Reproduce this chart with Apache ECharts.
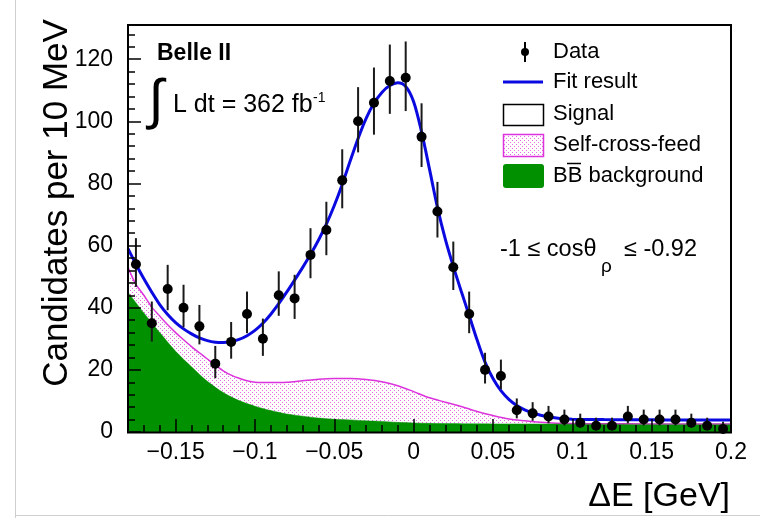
<!DOCTYPE html>
<html>
<head>
<meta charset="utf-8">
<script src="https://cdn.jsdelivr.net/npm/echarts@6/dist/echarts.min.js"></script>
<style>
  html, body { margin: 0; padding: 0; background: #fff; }
  #chart { width: 760px; height: 518px; }
</style>
</head>
<body>
<div id="chart"></div>
<script>
// bin centres (10 MeV bins) and observed counts
const binCenters = [-0.175, -0.165, -0.155, -0.145, -0.135, -0.125, -0.115, -0.105, -0.095, -0.085,
  -0.075, -0.065, -0.055, -0.045, -0.035, -0.025, -0.015, -0.005, 0.005, 0.015,
  0.025, 0.035, 0.045, 0.055, 0.065, 0.075, 0.085, 0.095, 0.105, 0.115,
  0.125, 0.135, 0.145, 0.155, 0.165, 0.175, 0.185, 0.195]
const counts = [54, 35, 46, 40, 34, 22, 29, 38, 30, 44,
  43, 57, 65, 81, 100, 106, 113, 114, 95, 71,
  53, 38, 20, 18, 7, 6, 5, 4, 3, 2,
  2, 5, 4, 4, 4, 3, 2, 1]
const errLow = [7.3, 5.9, 6.8, 6.3, 5.8, 4.7, 5.4, 6.2, 5.5, 6.6,
  6.6, 7.5, 8.1, 9.0, 10.0, 10.3, 10.6, 10.7, 9.7, 8.4,
  7.3, 6.2, 4.4, 4.2, 2.6, 2.4, 2.2, 1.9, 1.6, 1.3,
  1.3, 2.2, 1.9, 1.9, 1.9, 1.6, 1.3, 0.8]
const errHigh = [8.4, 7.0, 7.8, 7.4, 6.9, 5.7, 6.4, 7.2, 6.5, 7.7,
  7.6, 8.6, 9.1, 10.0, 11.0, 11.3, 11.7, 11.7, 10.8, 9.5,
  8.3, 7.2, 5.5, 5.3, 3.8, 3.6, 3.4, 3.2, 2.9, 2.6,
  2.6, 3.4, 3.2, 3.2, 3.2, 2.9, 2.6, 2.3]

// fit result (total)
const fitX = [-0.18, -0.175, -0.17, -0.165, -0.16, -0.155, -0.15, -0.145, -0.14, -0.135,
  -0.13, -0.125, -0.12, -0.115, -0.11, -0.105, -0.1, -0.095, -0.09, -0.085,
  -0.08, -0.075, -0.07, -0.065, -0.06, -0.055, -0.05, -0.045, -0.04, -0.035,
  -0.03, -0.025, -0.02, -0.015, -0.01, -0.005, 0, 0.005, 0.01, 0.015,
  0.02, 0.025, 0.03, 0.035, 0.04, 0.045, 0.05, 0.055, 0.06, 0.065,
  0.07, 0.075, 0.08, 0.085, 0.09, 0.095, 0.1, 0.12, 0.14, 0.16, 0.18, 0.2]
const fitY = [59.0, 54.0, 49.3, 45.0, 41.0, 37.8, 35.2, 33.2, 31.6, 30.3,
  29.4, 28.9, 28.8, 29.1, 29.8, 31.0, 32.7, 35.0, 37.9, 41.3,
  45.0, 48.9, 52.9, 57.1, 61.7, 66.9, 72.9, 79.7, 87.2, 94.5,
  100.9, 105.8, 109.3, 111.5, 112.4, 111.2, 106.3, 96.6, 84.6, 72.3,
  62.0, 53.3, 45.3, 37.5, 29.6, 22.5, 17.2, 13.3, 10.5, 8.5,
  7.1, 6.1, 5.4, 4.9, 4.5, 4.25, 4.1, 4.0, 3.95, 3.9, 3.9, 3.9]

// self-cross-feed stacked on BB background (top edge of hatched area)
const scfX = [-0.18, -0.175, -0.17, -0.165, -0.16, -0.155, -0.15, -0.145, -0.14, -0.135,
  -0.13, -0.125, -0.12, -0.115, -0.11, -0.105, -0.1, -0.09, -0.08, -0.07,
  -0.06, -0.05, -0.04, -0.03, -0.02, -0.01, 0, 0.01, 0.02, 0.03,
  0.04, 0.05, 0.06, 0.07, 0.08, 0.09, 0.1, 0.12, 0.15, 0.2]
const scfY = [53.0, 47.5, 44.0, 40.2, 37.3, 34.5, 32.0, 29.7, 27.5, 25.5,
  23.5, 21.5, 19.7, 18.3, 17.3, 16.5, 16.0, 15.9, 16.0, 16.5,
  17.0, 17.2, 17.2, 16.9, 16.2, 14.9, 13.0, 11.0, 9.6, 8.2,
  6.6, 5.3, 4.2, 3.6, 3.1, 2.8, 2.7, 2.65, 2.6, 2.6]

// BB background
const bbX = [-0.18, -0.17, -0.16, -0.15, -0.14, -0.13, -0.12, -0.11, -0.1, -0.09,
  -0.08, -0.07, -0.06, -0.05, -0.04, -0.03, -0.02, -0.01, 0, 0.02,
  0.05, 0.1, 0.15, 0.2]
const bbY = [45.0, 38.3, 32.0, 26.0, 21.0, 16.3, 12.7, 10.1, 8.3, 6.9,
  5.8, 5.1, 4.5, 4.1, 3.9, 3.6, 3.4, 3.1, 2.9, 2.7,
  2.6, 2.55, 2.5, 2.5]

// tick labels
const xMajor = [-0.15, -0.1, -0.05, 0, 0.05, 0.1, 0.15, 0.2]
const xTickLabels = ['\u22120.15', '\u22120.1', '\u22120.05', '0', '0.05', '0.1', '0.15', '0.2']
const yMajor = [0, 20, 40, 60, 80, 100, 120]
const yTickLabels = ['0', '20', '40', '60', '80', '100', '120']

const FONT = "'Liberation Sans', Arial, Helvetica, sans-serif"
const BLUE = '#0a0ae0'
const GREEN = '#009000'
const MAGENTA = '#dd33dd'

// minor tick positions
const xMinor = []
for (let i = 0; i <= 38; i++) xMinor.push(Math.round((-0.18 + i * 0.01) * 1000) / 1000)
const yMinor = []
for (let v = 0; v <= 128; v += 4) yMinor.push(v)

// dotted hatch like ROOT fill style
function hatch() {
  const c = document.createElement('canvas')
  c.width = 4
  c.height = 4
  const ctx = c.getContext('2d')
  ctx.fillStyle = '#e070e0'
  ctx.fillRect(0, 0, 1, 1)
  ctx.fillRect(2, 2, 1, 1)
  return c
}
const hatchPattern = { image: hatch(), repeat: 'repeat' }

const pair = (xs, ys) => xs.map((x, i) => [x, ys[i]])

const chart = echarts.init(document.getElementById('chart'))

const tickStyle = { color: '#000', width: 1.5 }
const noLine = { show: false, onZero: false }

const option = {
  animation: false,
  backgroundColor: '#fff',
  grid: { left: 128, right: 29, top: 25, bottom: 86, show: false },
  xAxis: [
    {
      type: 'value', min: -0.18, max: 0.2, position: 'bottom', z: 10,
      axisLine: noLine, splitLine: { show: false },
      axisTick: { inside: true, length: 13, lineStyle: tickStyle, customValues: xMajor },
      axisLabel: {
        customValues: xMajor, color: '#000', fontSize: 23, fontFamily: FONT, margin: 9,
        formatter: (v) => xTickLabels[xMajor.findIndex((m) => Math.abs(m - v) < 1e-9)],
      },
    },
    {
      type: 'value', min: -0.18, max: 0.2, position: 'bottom', z: 10,
      axisLine: noLine, splitLine: { show: false }, axisLabel: { show: false },
      axisTick: { inside: true, length: 7, lineStyle: tickStyle, customValues: xMinor },
    },
  ],
  yAxis: [
    {
      type: 'value', min: 0, max: 131, position: 'left', z: 10,
      axisLine: noLine, splitLine: { show: false },
      axisTick: { inside: true, length: 13, lineStyle: tickStyle, customValues: yMajor },
      axisLabel: {
        customValues: yMajor, color: '#000', fontSize: 23, fontFamily: FONT, margin: 15,
        formatter: (v) => yTickLabels[yMajor.indexOf(v)],
      },
    },
    {
      type: 'value', min: 0, max: 131, position: 'left', offset: 0, z: 10,
      axisLine: noLine, splitLine: { show: false }, axisLabel: { show: false },
      axisTick: { inside: true, length: 7, lineStyle: tickStyle, customValues: yMinor },
    },
  ],
  series: [
    {
      name: 'Self-cross-feed', type: 'line', data: pair(scfX, scfY),
      smooth: 0.3, showSymbol: false,
      lineStyle: { color: MAGENTA, width: 1.5 },
      areaStyle: { color: hatchPattern, opacity: 1 },
    },
    {
      name: 'BB background', type: 'line', data: pair(bbX, bbY),
      smooth: 0.3, showSymbol: false,
      lineStyle: { color: GREEN, width: 0.5 },
      areaStyle: { color: GREEN, opacity: 1 },
    },
    {
      name: 'Fit result', type: 'line', data: pair(fitX, fitY),
      smooth: 0.3, showSymbol: false,
      lineStyle: { color: BLUE, width: 3 },
    },
    {
      name: 'Data', type: 'custom', z: 5,
      data: binCenters.map((x, i) => [x, counts[i], errLow[i], errHigh[i]]),
      encode: { x: 0, y: 1 },
      renderItem: (params, api) => {
        const x = api.value(0)
        const y = api.value(1)
        const p = api.coord([x, y])
        const lo = api.coord([x, y - api.value(2)])
        const hi = api.coord([x, y + api.value(3)])
        return {
          type: 'group',
          children: [
            { type: 'line', shape: { x1: p[0], y1: lo[1], x2: p[0], y2: hi[1] }, style: { stroke: '#1a1a1a', lineWidth: 2 } },
            { type: 'circle', shape: { cx: p[0], cy: p[1], r: 5 }, style: { fill: '#000' } },
          ],
        }
      },
    },
  ],
  graphic: [
    // page edges of the source figure
    { type: 'line', shape: { x1: 15.5, y1: 0, x2: 15.5, y2: 518 }, style: { stroke: '#cfcfcf', lineWidth: 1 } },
    { type: 'line', shape: { x1: 15, y1: 515.5, x2: 760, y2: 515.5 }, style: { stroke: '#cfcfcf', lineWidth: 1 } },
    // frame
    { type: 'rect', z: 100, shape: { x: 128, y: 25, width: 603, height: 407.5 }, style: { fill: null, stroke: '#000', lineWidth: 2 } },
    // labels
    { type: 'text', x: 157, y: 54, style: { text: 'Belle II', font: 'bold 23px ' + FONT, fill: '#000', verticalAlign: 'middle' } },
    { type: 'text', x: 156, y: 103, style: { text: '\u222B', font: '55px ' + FONT, fill: '#000', align: 'center', verticalAlign: 'middle' } },
    { type: 'text', x: 173, y: 105, style: { text: 'L dt = 362 fb', font: '25px ' + FONT, fill: '#000', verticalAlign: 'middle' } },
    { type: 'text', x: 313, y: 98, style: { text: '-1', font: '14px ' + FONT, fill: '#000', verticalAlign: 'middle' } },
    { type: 'text', x: 500, y: 250, style: { text: '-1 \u2264 cos\u03B8', font: '23.5px ' + FONT, fill: '#000', verticalAlign: 'middle' } },
    { type: 'text', x: 601, y: 267, style: { text: '\u03C1', font: '19px ' + FONT, fill: '#000', verticalAlign: 'middle' } },
    { type: 'text', x: 697, y: 250, style: { text: '\u2264 -0.92', font: '23.5px ' + FONT, fill: '#000', align: 'right', verticalAlign: 'middle' } },
    { type: 'text', x: 57, y: 203, rotation: Math.PI / 2, style: { text: 'Candidates per 10 MeV', font: '35px ' + FONT, fill: '#000', align: 'center', verticalAlign: 'middle' } },
    { type: 'text', x: 730, y: 497, style: { text: '\u0394E [GeV]', font: '34px ' + FONT, fill: '#000', align: 'right', verticalAlign: 'middle' } },
    // legend
    { type: 'line', shape: { x1: 525, y1: 42, x2: 525, y2: 62 }, style: { stroke: '#000', lineWidth: 2 } },
    { type: 'circle', shape: { cx: 525, cy: 52, r: 4 }, style: { fill: '#000' } },
    { type: 'text', x: 553, y: 52, style: { text: 'Data', font: '22px ' + FONT, fill: '#000', verticalAlign: 'middle' } },
    { type: 'line', shape: { x1: 503, y1: 82, x2: 543, y2: 82 }, style: { stroke: BLUE, lineWidth: 3 } },
    { type: 'text', x: 553, y: 82, style: { text: 'Fit result', font: '22px ' + FONT, fill: '#000', verticalAlign: 'middle' } },
    { type: 'rect', shape: { x: 503.5, y: 104.5, width: 40, height: 21 }, style: { fill: '#fff', stroke: '#000', lineWidth: 1.5 } },
    { type: 'text', x: 553, y: 114, style: { text: 'Signal', font: '22px ' + FONT, fill: '#000', verticalAlign: 'middle' } },
    { type: 'rect', shape: { x: 503.5, y: 134.5, width: 40, height: 22 }, style: { fill: hatchPattern, stroke: MAGENTA, lineWidth: 1.5 } },
    { type: 'text', x: 553, y: 145, style: { text: 'Self-cross-feed', font: '22px ' + FONT, fill: '#000', verticalAlign: 'middle' } },
    { type: 'rect', shape: { x: 503, y: 164, width: 41, height: 24, r: 3 }, style: { fill: GREEN } },
    { type: 'text', x: 553, y: 176, style: { text: 'BB background', font: '22px ' + FONT, fill: '#000', verticalAlign: 'middle' } },
    { type: 'line', shape: { x1: 567, y1: 163.5, x2: 581, y2: 163.5 }, style: { stroke: '#000', lineWidth: 1.5 } },
  ],
}

chart.setOption(option)
window.addEventListener('resize', () => {
  chart.resize()
})
</script>
</body>
</html>
